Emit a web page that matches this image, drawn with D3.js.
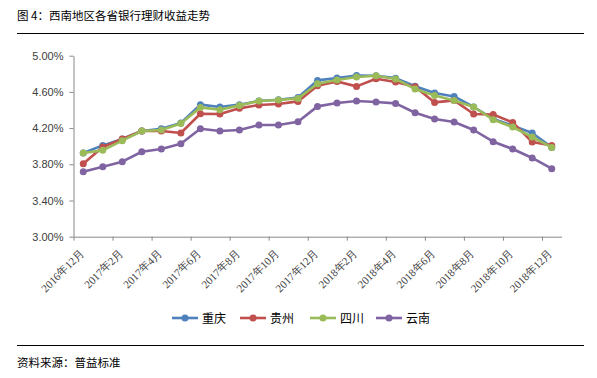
<!DOCTYPE html>
<html><head><meta charset="utf-8">
<script src="https://cdn.jsdelivr.net/npm/d3@7"></script>
<style>
html,body{margin:0;padding:0;background:#fff;}
svg{display:block;}
</style></head>
<body>
<svg id="chart" width="597" height="378"></svg>
<script>
const titleText = "图 4：西南地区各省银行理财收益走势";
const sourceText = "资料来源：普益标准";
const categories = ["2016年12月","2017年1月","2017年2月","2017年3月","2017年4月","2017年5月","2017年6月","2017年7月","2017年8月","2017年9月","2017年10月","2017年11月","2017年12月","2018年1月","2018年2月","2018年3月","2018年4月","2018年5月","2018年6月","2018年7月","2018年8月","2018年9月","2018年10月","2018年11月","2018年12月"];
const seriesNames = ["重庆","贵州","四川","云南"];
const chongqing = [3.925,4.009,4.080,4.168,4.193,4.256,4.459,4.433,4.459,4.500,4.514,4.539,4.727,4.754,4.782,4.779,4.752,4.663,4.588,4.550,4.433,4.301,4.227,4.146,3.987];
const guizhou   = [3.807,3.991,4.080,4.168,4.168,4.146,4.359,4.356,4.418,4.455,4.466,4.495,4.669,4.716,4.661,4.746,4.709,4.658,4.484,4.506,4.356,4.351,4.263,4.046,4.009];
const sichuan   = [3.925,3.954,4.061,4.168,4.179,4.252,4.429,4.403,4.451,4.500,4.511,4.528,4.691,4.732,4.765,4.779,4.743,4.632,4.561,4.506,4.433,4.293,4.212,4.102,3.987];
const yunnan    = [3.718,3.774,3.829,3.939,3.969,4.028,4.193,4.168,4.179,4.234,4.234,4.271,4.440,4.477,4.500,4.488,4.473,4.370,4.301,4.267,4.179,4.050,3.969,3.870,3.751];
const yTicks = [3.0,3.4,3.8,4.2,4.6,5.0];
const colors = ["#4F81BD","#C0504D","#9BBB59","#8064A2"];

const svg = d3.select("#chart");
const cjk = "'Noto Sans CJK SC', sans-serif";

// title
svg.append("text").attr("x",17).attr("y",20).attr("font-family",cjk).attr("font-size",11.5).attr("fill","#000").text(titleText);
svg.append("line").attr("x1",17).attr("x2",584).attr("y1",33.5).attr("y2",33.5).attr("stroke","#000").attr("stroke-width",1.2);
// footer
svg.append("line").attr("x1",17).attr("x2",584).attr("y1",345.5).attr("y2",345.5).attr("stroke","#000").attr("stroke-width",1.2);
svg.append("text").attr("x",17).attr("y",367).attr("font-family",cjk).attr("font-size",11.5).attr("fill","#000").text(sourceText);

const x = d3.scaleLinear().domain([0,categories.length]).range([73.5,561.5]);
const y = d3.scaleLinear().domain([3,5]).range([236.7,55.7]);

// y axis
const ya = svg.append("g").attr("transform","translate(73.5,0)")
  .call(d3.axisLeft(y).tickValues(yTicks).tickSize(4).tickSizeOuter(0).tickPadding(6).tickFormat(d=>d.toFixed(2)+"%"));
ya.selectAll("path,line").attr("stroke","#888");
ya.selectAll("text").attr("font-family","'Liberation Sans', Arial, sans-serif").attr("font-size",11).attr("fill","#404040");

// x axis
const tickIdx = d3.range(0,categories.length,2);
const xa = svg.append("g").attr("transform","translate(0,236.7)")
  .call(d3.axisBottom(x).tickValues(tickIdx).tickSize(4).tickSizeOuter(0).tickFormat(""));
xa.selectAll("path,line").attr("stroke","#888");

svg.append("g").selectAll("text").data(tickIdx).join("text")
  .attr("transform",i=>`translate(${x(i+0.5)+1.5},254) rotate(-45)`)
  .attr("text-anchor","end")
  .attr("font-family","'Liberation Serif', 'Times New Roman', serif")
  .attr("font-size",11).attr("fill","#404040")
  .text(i=>categories[i]);

// series
const allSeries = [chongqing,guizhou,sichuan,yunnan];
const line = d3.line().x((d,i)=>x(i+0.5)).y(d=>y(d));
allSeries.forEach((s,k)=>{
  const g = svg.append("g");
  g.append("path").attr("d",line(s)).attr("fill","none").attr("stroke",colors[k]).attr("stroke-width",2.6).attr("stroke-linejoin","round");
  g.selectAll("circle").data(s).join("circle").attr("cx",(d,i)=>x(i+0.5)).attr("cy",d=>y(d)).attr("r",3.5).attr("fill",colors[k]);
});

// legend
const legX = [172,240,310,376];
seriesNames.forEach((n,k)=>{
  const g = svg.append("g").attr("transform",`translate(${legX[k]},318)`);
  g.append("line").attr("x1",0).attr("x2",26).attr("y1",0).attr("y2",0).attr("stroke",colors[k]).attr("stroke-width",2.6);
  g.append("circle").attr("cx",13).attr("cy",0).attr("r",3.5).attr("fill",colors[k]);
  g.append("text").attr("x",30).attr("y",4.5).attr("font-family",cjk).attr("font-size",12).attr("fill","#000").text(n);
});
</script>
</body></html>
